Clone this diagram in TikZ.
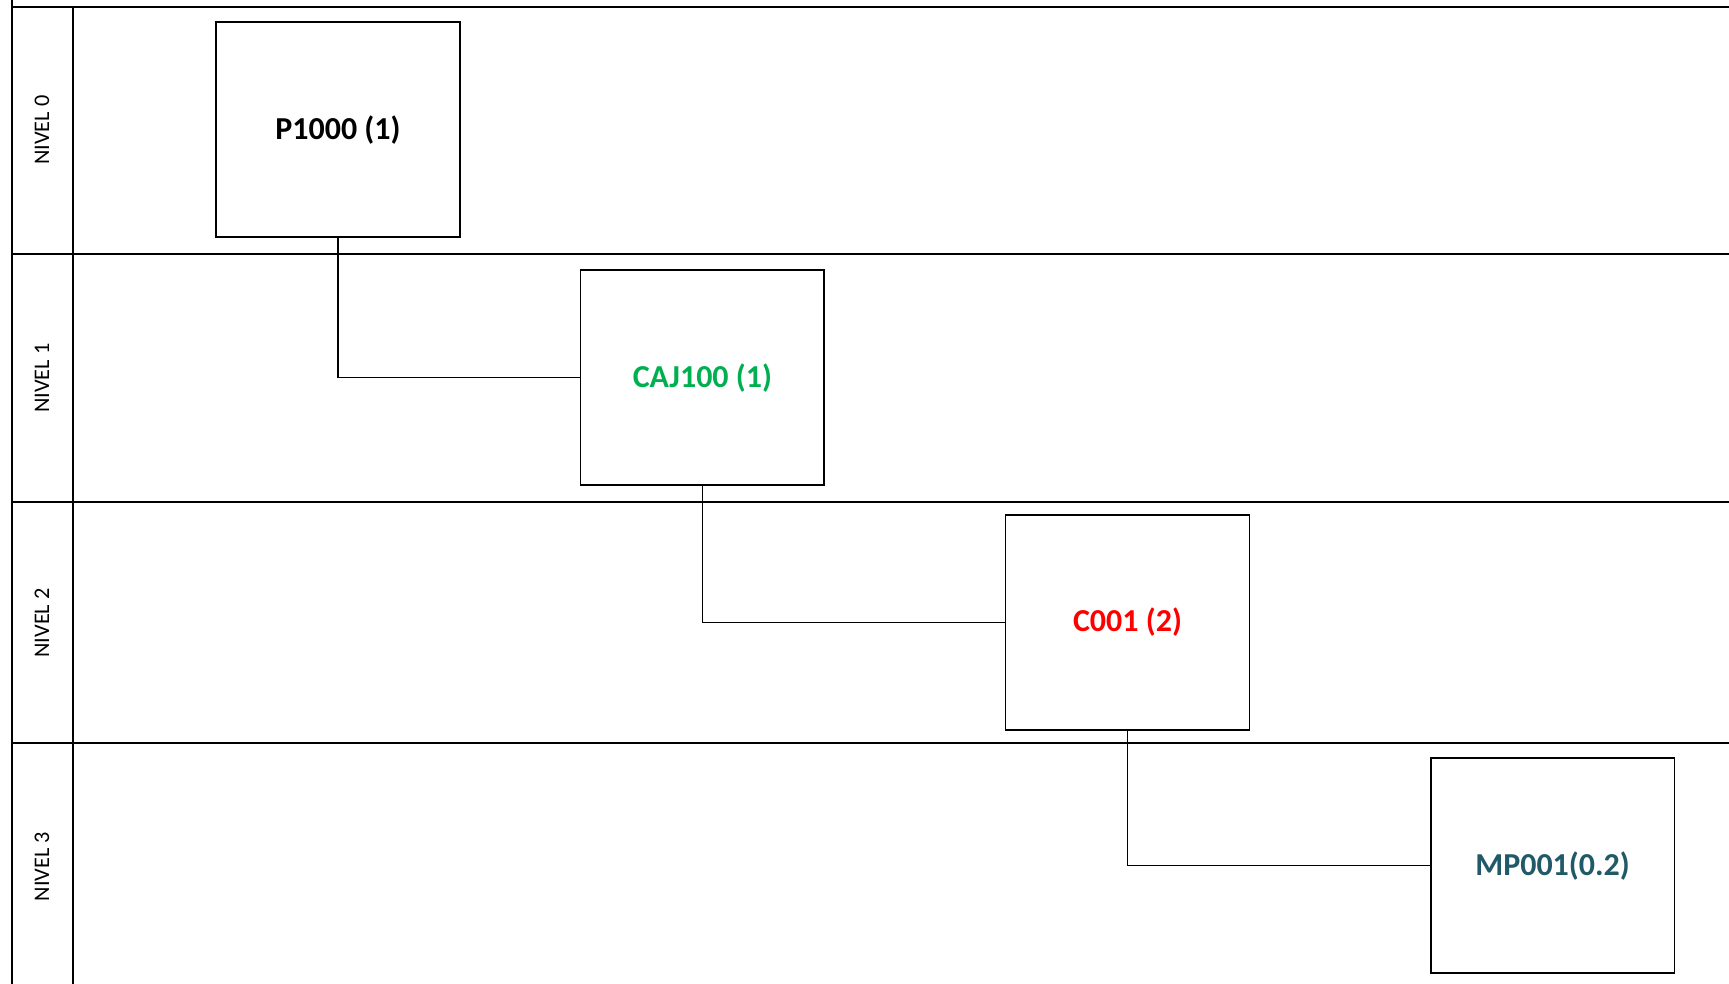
\documentclass[tikz,border=0pt]{standalone}
\usepackage{fontspec}
\setmainfont{Carlito}
\usepackage{tikz}

\definecolor{verde}{RGB}{0,176,80}
\definecolor{rojo}{RGB}{255,0,0}
\definecolor{petroleo}{RGB}{33,89,104}

\begin{document}
\begin{tikzpicture}[
			x=0.02cm, y=-0.02cm
			,lane/.style={draw=black, line width=1.1pt}
			,item/.style={rectangle, draw, line width=0.8pt, minimum width=4.42cm, minimum height=3.9cm, font=\fontsize{16.5}{18}\selectfont\bfseries}
			,nivel/.style={rotate=90, font=\fontsize{11.5}{13}\selectfont}
			,link/.style={draw, line width=0.7pt}
		]
			\useasboundingbox (0,0) rectangle (1568,892);
			% lanes
			\draw [lane] (11,0) -- (11,892);
			\draw [lane] (66,6) -- (66,892);
			\foreach \y in {6,230,455,674}
				\draw [lane] (11,\y) -- (1568,\y);
			\node [nivel] (n0) at (38,118) {NIVEL 0};
			\node [nivel] (n1) at (38,343) {NIVEL 1};
			\node [nivel] (n2) at (38,565) {NIVEL 2};
			\node [nivel] (n3) at (38,786) {NIVEL 3};
			% items
			\node [item] (P) at (306.5,117.5) {P1000 (1)};
			\node [item, text=verde] (CAJ) at (637,342.5) {CAJ100 (1)};
			\node [item, text=rojo] (C) at (1022.5,564.5) {C001 (2)};
			\node [item, text=petroleo] (MP) at (1408,785) {MP001(0.2)};
			% links
			\draw [link] (P.south) |- (CAJ.west);
			\draw [link] (CAJ.south) |- (C.west);
			\draw [link] (C.south) |- (MP.west);
		\end{tikzpicture}
\end{document}
